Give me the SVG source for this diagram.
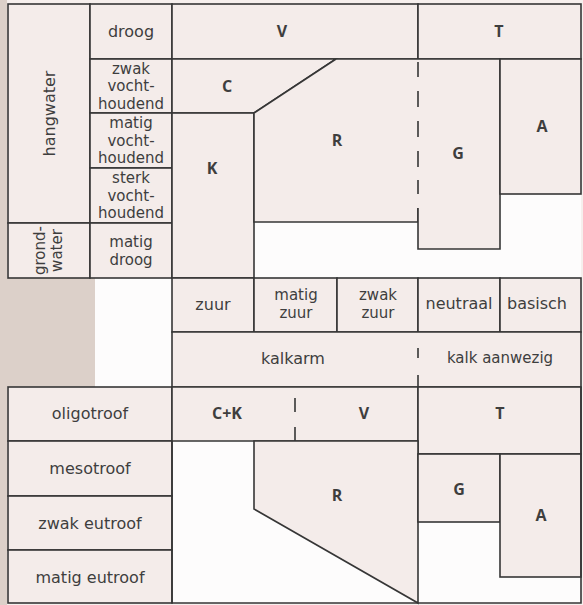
<svg xmlns="http://www.w3.org/2000/svg" width="583" height="605" viewBox="0 0 583 605">
<style>
.cell{fill:#f4ecea;stroke:#363636;stroke-width:1.6}
.fill{fill:#f4ecea;stroke:none}
.edge{fill:none;stroke:#363636;stroke-width:1.6}
.t{font-family:"DejaVu Sans","Open Sans",sans-serif;font-size:16px;fill:#3e3e3e;text-anchor:middle;dominant-baseline:central}
.m{font-size:15px}
.b{font-family:"Open Sans","Noto Sans",sans-serif;font-size:16px;font-weight:bold;fill:#3e3e3e;text-anchor:middle;dominant-baseline:central}
.dash{fill:none;stroke:#363636;stroke-width:1.6}
</style>
<rect x="0" y="0" width="583" height="605" fill="#f6efed"/>
<rect x="0" y="0" width="7" height="605" fill="#dcd0c9"/>
<rect x="0" y="278" width="95" height="109" fill="#dcd0c9"/>
<rect x="95" y="278" width="77" height="109" fill="#fdfcfc"/>
<rect x="172" y="4" width="409" height="274" fill="#fdfcfc"/>
<rect x="172" y="441" width="409" height="162" fill="#fdfcfc"/>

<!-- top section -->
<g id="hangwater"><rect class="cell" x="8" y="4" width="82" height="219"/><text class="t" transform="translate(49,113.5) rotate(-90)">hangwater</text></g>
<g id="grondwater"><rect class="cell" x="8" y="223" width="82" height="55"/><text class="t m" transform="translate(48.5,250.5) rotate(-90)"><tspan x="0" y="-8.8">grond-</tspan><tspan x="0" y="8.8">water</tspan></text></g>
<g id="droog"><rect class="cell" x="90" y="4" width="82" height="55"/><text class="t" x="131" y="31">droog</text></g>
<g id="zwak-vochthoudend"><rect class="cell" x="90" y="59" width="82" height="54"/><text class="t m"><tspan x="131" y="68.5">zwak</tspan><tspan x="131" y="86">vocht-</tspan><tspan x="131" y="103.5">houdend</tspan></text></g>
<g id="matig-vochthoudend"><rect class="cell" x="90" y="113" width="82" height="55"/><text class="t m"><tspan x="131" y="123">matig</tspan><tspan x="131" y="140.5">vocht-</tspan><tspan x="131" y="158">houdend</tspan></text></g>
<g id="sterk-vochthoudend"><rect class="cell" x="90" y="168" width="82" height="55"/><text class="t m"><tspan x="131" y="178">sterk</tspan><tspan x="131" y="195.5">vocht-</tspan><tspan x="131" y="213">houdend</tspan></text></g>
<g id="matig-droog"><rect class="cell" x="90" y="223" width="82" height="55"/><text class="t m"><tspan x="131" y="241.5">matig</tspan><tspan x="131" y="259.5">droog</tspan></text></g>
<g id="V-top"><rect class="cell" x="172" y="4" width="246" height="55"/><text class="b" x="282" y="31">V</text></g>
<g id="T-top"><rect class="cell" x="418" y="4" width="163" height="55"/><text class="b" x="499" y="31">T</text></g>
<g id="C-top"><polygon class="cell" points="172,59 336,59 254,113 172,113"/><text class="b" x="227" y="86">C</text></g>
<g id="K-top"><rect class="cell" x="172" y="113" width="82" height="165"/><text class="b" x="212" y="168">K</text></g>
<g id="R-top"><polygon class="fill" points="336,59 418,59 418,222 254,222 254,113"/><path class="edge" d="M336,59 L418,59 M418,208 L418,222 L254,222 L254,113 L336,59"/><text class="b" x="337" y="140">R</text></g>
<g id="G-top"><rect class="fill" x="418" y="59" width="82" height="190"/><path class="edge" d="M418,59 L500,59 L500,249 L418,249 L418,208"/><text class="b" x="458" y="153">G</text></g>
<g id="A-top"><rect class="cell" x="500" y="59" width="81" height="135"/><text class="b" x="542" y="126">A</text></g>

<!-- middle section -->
<g id="zuur"><rect class="cell" x="172" y="278" width="82" height="54"/><text class="t" x="213" y="304">zuur</text></g>
<g id="matig-zuur"><rect class="cell" x="254" y="278" width="83" height="54"/><text class="t m"><tspan x="296" y="295">matig</tspan><tspan x="296" y="312.5">zuur</tspan></text></g>
<g id="zwak-zuur"><rect class="cell" x="337" y="278" width="81" height="54"/><text class="t m"><tspan x="378" y="295">zwak</tspan><tspan x="378" y="312.5">zuur</tspan></text></g>
<g id="neutraal"><rect class="cell" x="418" y="278" width="82" height="54"/><text class="t" x="459" y="303">neutraal</text></g>
<g id="basisch"><rect class="cell" x="500" y="278" width="81" height="54"/><text class="t" x="537" y="303">basisch</text></g>
<g id="kalkarm"><rect class="fill" x="172" y="332" width="246" height="55"/><path class="edge" d="M418,332 L172,332 L172,387 L418,387"/><text class="t" x="293" y="358">kalkarm</text></g>
<g id="kalk-aanwezig"><rect class="fill" x="418" y="332" width="163" height="55"/><path class="edge" d="M418,332 L581,332 L581,387 L418,387"/><text class="t m" x="500" y="358">kalk aanwezig</text></g>

<!-- bottom section -->
<g id="oligotroof"><rect class="cell" x="8" y="387" width="164" height="54"/><text class="t" x="90" y="413">oligotroof</text></g>
<g id="mesotroof"><rect class="cell" x="8" y="441" width="164" height="55"/><text class="t" x="90" y="468">mesotroof</text></g>
<g id="zwak-eutroof"><rect class="cell" x="8" y="496" width="164" height="54"/><text class="t" x="90" y="523">zwak eutroof</text></g>
<g id="matig-eutroof"><rect class="cell" x="8" y="550" width="164" height="53"/><text class="t" x="90" y="577">matig eutroof</text></g>
<g id="CK-bottom"><rect class="fill" x="172" y="387" width="123" height="54"/><path class="edge" d="M295,387 L172,387 L172,441 L295,441"/><text class="b" x="227" y="413">C+K</text></g>
<g id="V-bottom"><rect class="fill" x="295" y="387" width="123" height="54"/><path class="edge" d="M295,387 L418,387 L418,441 L295,441"/><text class="b" x="364" y="413">V</text></g>
<g id="T-bottom"><rect class="cell" x="418" y="387" width="163" height="67"/><text class="b" x="500" y="413">T</text></g>
<g id="R-bottom"><polygon class="cell" points="254,441 418,441 418,603 254,509"/><text class="b" x="337" y="495">R</text></g>
<g id="G-bottom"><rect class="cell" x="418" y="454" width="82" height="68"/><text class="b" x="459" y="489">G</text></g>
<g id="A-bottom"><rect class="cell" x="500" y="454" width="81" height="123"/><text class="b" x="541" y="515">A</text></g>

<!-- outer frame of bottom/left -->
<g id="frame"><path class="edge" d="M172,441 L172,603 L581,603 L581,387"/></g>

<g id="dividers">
<path class="dash" d="M418,62 V77 M418,91 V107 M418,121 V137 M418,151 V167 M418,180 V194"/>
<path class="dash" d="M418,348 V358 M418,375 V387"/>
<path class="dash" d="M295,398 V412 M295,427 V441"/>
</g>
</svg>
